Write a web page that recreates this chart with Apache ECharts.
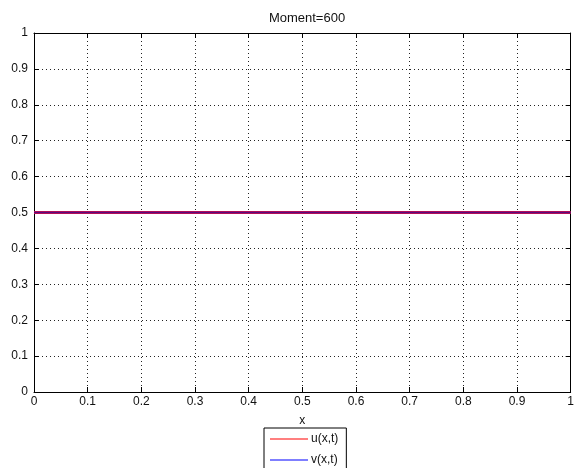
<!DOCTYPE html>
<html>
<head>
<meta charset="utf-8">
<script src="https://cdn.jsdelivr.net/npm/echarts@6/dist/echarts.min.js"></script>
<style>
html,body{margin:0;padding:0;background:#fff;}
#c{width:577px;height:468px;}
</style>
</head>
<body>
<div id="c"></div>
<script>
var chartTitle = 'Moment=600';
var xValues = [0, 0.1, 0.2, 0.3, 0.4, 0.5, 0.6, 0.7, 0.8, 0.9, 1];
var uValues = [0.5, 0.5, 0.5, 0.5, 0.5, 0.5, 0.5, 0.5, 0.5, 0.5, 0.5];
var vValues = [0.5, 0.5, 0.5, 0.5, 0.5, 0.5, 0.5, 0.5, 0.5, 0.5, 0.5];
var seriesNames = ['u(x,t)', 'v(x,t)'];
var xAxisName = 'x';

function pairs(xs, ys){ return xs.map(function(x,i){ return [x, ys[i]]; }); }

var font = 'Liberation Sans, Arial, sans-serif';
var txt = '#111';
function axisBase(show){
  return {
    type: 'value', min: 0, max: 1, interval: 0.1,
    axisLine: {show: true, onZero: false, lineStyle: {color: '#000', width: 1}},
    axisTick: {show: true, inside: true, length: 5, lineStyle: {color: '#000'}},
    axisLabel: {show: show, color: txt, fontFamily: font, fontSize: 12, margin: 4},
    splitLine: {show: show, lineStyle: {color: '#222', type: [1, 3], width: 1}}
  };
}
var xb = axisBase(true);
xb.position = 'bottom';
xb.name = xAxisName; xb.nameLocation = 'middle'; xb.nameGap = 23;
xb.nameTextStyle = {color: txt, fontFamily: font, fontSize: 12};
var xt = axisBase(false); xt.position = 'top';
var yl = axisBase(true); yl.position = 'left'; yl.axisLabel.margin = 6;
var yr = axisBase(false); yr.position = 'right';

var chart = echarts.init(document.getElementById('c'), null, {renderer: 'canvas'});
chart.setOption({
  animation: false,
  backgroundColor: '#fff',
  title: {text: chartTitle, left: 302, textAlign: 'center', top: 7,
    textStyle: {color: txt, fontFamily: font, fontSize: 13, fontWeight: 'normal'}},
  grid: {left: 34, right: 1, top: 33, bottom: 76, containLabel: false},
  xAxis: [xb, xt],
  yAxis: [yl, yr],
  legend: {
    orient: 'vertical', left: 264, top: 428, height: 60, width: 85,
    data: seriesNames,
    icon: 'rect', itemWidth: 38, itemHeight: 1, itemGap: 9,
    padding: [5, 8, 12, 6],
    borderColor: '#000', borderWidth: 1, backgroundColor: '#fff',
    textStyle: {color: txt, fontFamily: font, fontSize: 12, padding: [0,0,0,-2]}
  },
  series: [
    {name: seriesNames[0], type: 'line', data: pairs(xValues, uValues), showSymbol: false,
      color: '#ff0000', lineStyle: {color: '#d0104a', width: 3}},
    {name: seriesNames[1], type: 'line', data: pairs(xValues, vValues), showSymbol: false,
      color: '#0000ff', lineStyle: {color: '#5a0a80', width: 1.5}}
  ]
});
</script>
</body>
</html>
